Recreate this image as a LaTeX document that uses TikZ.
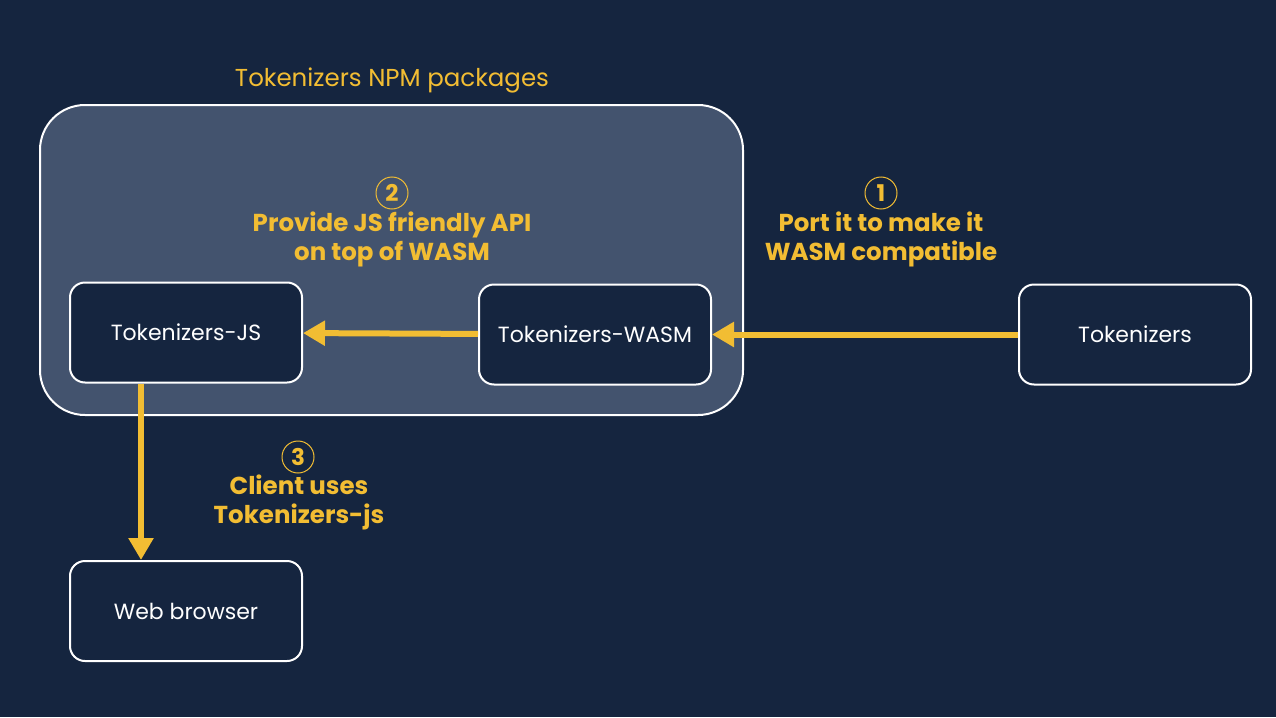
\documentclass[tikz,border=0pt]{standalone}
\usepackage{fontspec}
\setmainfont{Poppins}
\usepackage{xcolor}
\usepackage{tikz}
\usetikzlibrary{arrows.meta,positioning}
\definecolor{bgNavy}{HTML}{15253F}
\definecolor{groupFill}{HTML}{43536E}
\definecolor{tokYellow}{HTML}{F2BD33}
\tikzset{
  pkgnode/.style={rectangle, rounded corners=15pt, draw=white, fill=bgNavy, line width=2pt, minimum width=232pt, minimum height=100pt, text=white, font=\fontsize{22}{26}\selectfont},
  groupbox/.style={rectangle, rounded corners=45pt, draw=white, fill=groupFill, line width=2pt, minimum width=703pt, minimum height=310pt},
  grouptitle/.style={text=tokYellow, font=\fontsize{24.5}{28}\selectfont, inner sep=1pt},
  steplabel/.style={text=tokYellow, align=center, font=\fontsize{24.5}{29}\selectfont\bfseries, inner sep=1pt},
  stepnum/.style={circle, draw=tokYellow, line width=1pt, minimum size=32pt, inner sep=0pt, text=tokYellow, font=\fontsize{23}{25}\selectfont\bfseries},
  flowarrow/.style={-{Triangle[length=22pt,width=24pt]}, line width=6pt, draw=tokYellow},
}
\begin{document}
\begin{tikzpicture}[x=1pt,y=-1pt]
      \fill[bgNavy] (0,0) rectangle (1276,717);
      \useasboundingbox (0,0) rectangle (1276,717);

      % --- package group ---
      \node[groupbox] (npm) at (391.5,260) {};
      \node[grouptitle] (npmtitle) at (392,80) {Tokenizers NPM packages};

      % --- nodes ---
      \node[pkgnode] (tokjs) at (186,332.5) {Tokenizers-JS};
      \node[pkgnode] (tokwasm) at (595,334.5) {Tokenizers-WASM};
      \node[pkgnode] (tok) at (1135,334.5) {Tokenizers};
      \node[pkgnode] (browser) at (186,611) {Web browser};

      % --- steps ---
      \node[stepnum] (num1) at (881,193) {1};
      \node[steplabel] (step1) at (881,239.5) {Port it to make it\\WASM compatible};
      \node[stepnum] (num2) at (392,193) {2};
      \node[steplabel] (step2) at (392,239.5) {Provide JS friendly API\\on top of WASM};
      \node[stepnum] (num3) at (298,457) {3};
      \node[steplabel] (step3) at (299,502.5) {Client uses\\Tokenizers-js};

      % --- arrows ---
      \draw[flowarrow] (tok) -- (tokwasm);
      \draw[flowarrow] (tokwasm) -- (tokjs);
      \draw[flowarrow] (tokjs.south -| 141,0) -- (browser.north -| 141,0);
    \end{tikzpicture}
\end{document}
